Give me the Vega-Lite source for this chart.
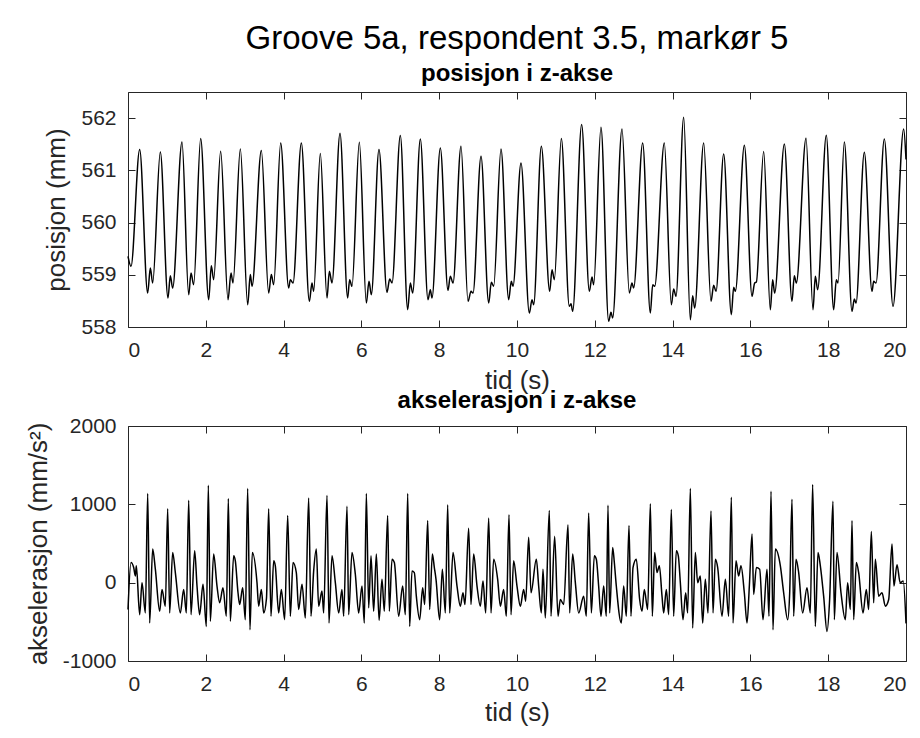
{
  "$schema": "https://vega.github.io/schema/vega-lite/v6.json",
  "autosize": {"type": "pad"},
  "padding": {"left": 24, "top": 22, "right": 5, "bottom": 5},
  "background": "white",
  "config": {
    "font": "Liberation Sans",
    "view": {"stroke": "#262626", "strokeWidth": 1},
    "axis": {"grid": false, "domain": false, "tickSize": -7, "tickColor": "#262626", "labelColor": "#262626", "labelFontSize": 21, "titleFontSize": 26, "titleFontWeight": "normal", "titleColor": "#262626", "labelPadding": 19, "labelFont": "Liberation Sans", "titleFont": "Liberation Sans"},
    "title": {"anchor": "middle", "color": "#000000", "font": "Liberation Sans", "subtitleFont": "Liberation Sans", "subtitleColor": "#000000"}
  },
  "bounds": "flush",
  "spacing": 99,
  "datasets": {
    "pos": [
      {"t":0.000,"z":559.354},{"t":0.077,"z":559.162},{"t":0.300,"z":561.397},{"t":0.506,"z":558.651},{"t":0.574,"z":559.130},{"t":0.634,"z":558.843},
      {"t":0.831,"z":561.352},{"t":1.028,"z":558.556},{"t":1.088,"z":558.983},{"t":1.148,"z":558.747},
      {"t":1.388,"z":561.544},{"t":1.560,"z":558.619},{"t":1.620,"z":559.034},{"t":1.688,"z":558.811},
      {"t":1.868,"z":561.608},{"t":2.074,"z":558.524},{"t":2.142,"z":559.175},{"t":2.202,"z":558.907},
      {"t":2.382,"z":561.365},{"t":2.571,"z":558.524},{"t":2.648,"z":559.034},{"t":2.699,"z":558.843},
      {"t":2.888,"z":561.410},{"t":3.076,"z":558.428},{"t":3.145,"z":559.003},{"t":3.188,"z":558.779},
      {"t":3.428,"z":561.378},{"t":3.616,"z":558.651},{"t":3.685,"z":559.003},{"t":3.745,"z":558.811},
      {"t":3.925,"z":561.525},{"t":4.130,"z":558.747},{"t":4.173,"z":558.907},{"t":4.242,"z":558.843},
      {"t":4.456,"z":561.525},{"t":4.662,"z":558.492},{"t":4.730,"z":558.843},{"t":4.773,"z":558.683},
      {"t":4.944,"z":561.321},{"t":5.116,"z":558.556},{"t":5.176,"z":559.066},{"t":5.244,"z":558.843},
      {"t":5.450,"z":561.710},{"t":5.647,"z":558.556},{"t":5.698,"z":558.907},{"t":5.758,"z":558.779},
      {"t":5.947,"z":561.538},{"t":6.127,"z":558.460},{"t":6.195,"z":558.875},{"t":6.255,"z":558.619},
      {"t":6.452,"z":561.397},{"t":6.658,"z":558.664},{"t":6.727,"z":558.920},{"t":6.787,"z":558.843},
      {"t":7.001,"z":561.665},{"t":7.190,"z":558.332},{"t":7.258,"z":558.843},{"t":7.318,"z":558.651},
      {"t":7.515,"z":561.602},{"t":7.712,"z":558.524},{"t":7.772,"z":558.715},{"t":7.815,"z":558.556},
      {"t":8.029,"z":561.429},{"t":8.226,"z":558.702},{"t":8.286,"z":558.971},{"t":8.355,"z":558.843},
      {"t":8.560,"z":561.461},{"t":8.741,"z":558.492},{"t":8.818,"z":558.683},{"t":8.869,"z":558.651},
      {"t":9.075,"z":561.269},{"t":9.272,"z":558.460},{"t":9.340,"z":558.856},{"t":9.400,"z":558.779},
      {"t":9.589,"z":561.410},{"t":9.786,"z":558.524},{"t":9.854,"z":558.875},{"t":9.897,"z":558.779},
      {"t":10.103,"z":561.142},{"t":10.317,"z":558.268},{"t":10.386,"z":558.524},{"t":10.428,"z":558.428},
      {"t":10.626,"z":561.461},{"t":10.840,"z":558.683},{"t":10.900,"z":559.098},{"t":10.960,"z":558.907},
      {"t":11.140,"z":561.608},{"t":11.345,"z":558.396},{"t":11.388,"z":558.447},{"t":11.431,"z":558.300},
      {"t":11.662,"z":561.876},{"t":11.859,"z":558.683},{"t":11.928,"z":558.958},{"t":11.971,"z":558.811},
      {"t":12.159,"z":561.825},{"t":12.356,"z":558.109},{"t":12.416,"z":558.281},{"t":12.459,"z":558.172},
      {"t":12.699,"z":561.793},{"t":12.888,"z":558.651},{"t":12.956,"z":558.843},{"t":12.999,"z":558.747},
      {"t":13.231,"z":561.525},{"t":13.428,"z":558.268},{"t":13.488,"z":558.811},{"t":13.539,"z":558.779},
      {"t":13.787,"z":561.525},{"t":13.967,"z":558.428},{"t":14.027,"z":558.728},{"t":14.087,"z":558.587},
      {"t":14.285,"z":562.017},{"t":14.456,"z":558.140},{"t":14.516,"z":558.600},{"t":14.568,"z":558.364},
      {"t":14.799,"z":561.525},{"t":14.987,"z":558.492},{"t":15.056,"z":558.798},{"t":15.116,"z":558.683},
      {"t":15.313,"z":561.314},{"t":15.510,"z":558.236},{"t":15.570,"z":558.760},{"t":15.613,"z":558.683},
      {"t":15.845,"z":561.480},{"t":16.042,"z":558.587},{"t":16.110,"z":558.843},{"t":16.153,"z":558.860},
      {"t":16.341,"z":561.359},{"t":16.512,"z":558.332},{"t":16.572,"z":558.907},{"t":16.624,"z":558.651},
      {"t":16.873,"z":561.506},{"t":17.069,"z":558.492},{"t":17.129,"z":558.983},{"t":17.181,"z":558.843},
      {"t":17.430,"z":561.614},{"t":17.609,"z":558.332},{"t":17.669,"z":558.971},{"t":17.729,"z":558.715},
      {"t":17.951,"z":561.672},{"t":18.140,"z":558.332},{"t":18.209,"z":558.907},{"t":18.252,"z":558.843},
      {"t":18.415,"z":561.544},{"t":18.612,"z":558.300},{"t":18.672,"z":558.536},{"t":18.715,"z":558.460},
      {"t":18.929,"z":561.346},{"t":19.126,"z":558.683},{"t":19.169,"z":558.875},{"t":19.229,"z":558.843},
      {"t":19.443,"z":561.602},{"t":19.666,"z":558.396},{"t":19.940,"z":561.793},{"t":20.000,"z":561.206}
    ],
    "acc": [
      {"t":0.000,"a":-343},{"t":0.077,"a":257},{"t":0.146,"a":193},{"t":0.189,"a":86},{"t":0.214,"a":215},{"t":0.300,"a":-408},{"t":0.360,"a":0},{"t":0.446,"a":-386},
      {"t":0.506,"a":1137},{"t":0.557,"a":-515},{"t":0.634,"a":429},{"t":0.703,"a":172},{"t":0.814,"a":-365},{"t":0.874,"a":-86},{"t":0.960,"a":-300},
      {"t":1.020,"a":944},{"t":1.071,"a":-386},{"t":1.148,"a":386},{"t":1.217,"a":129},{"t":1.345,"a":-386},{"t":1.431,"a":-86},{"t":1.500,"a":-386},
      {"t":1.560,"a":1051},{"t":1.620,"a":-408},{"t":1.714,"a":408},{"t":1.774,"a":-43},{"t":1.842,"a":-408},{"t":1.928,"a":-21},{"t":2.014,"a":-558},
      {"t":2.065,"a":1244},{"t":2.117,"a":-493},{"t":2.202,"a":365},{"t":2.288,"a":-43},{"t":2.356,"a":-257},{"t":2.442,"a":-64},{"t":2.528,"a":-429},
      {"t":2.579,"a":1073},{"t":2.631,"a":-493},{"t":2.716,"a":343},{"t":2.759,"a":279},{"t":2.828,"a":-129},{"t":2.871,"a":-279},{"t":2.948,"a":-64},{"t":3.016,"a":-472},
      {"t":3.076,"a":1201},{"t":3.136,"a":-601},{"t":3.196,"a":386},{"t":3.316,"a":0},{"t":3.359,"a":-300},{"t":3.428,"a":-86},{"t":3.488,"a":-386},{"t":3.560,"a":-200},
      {"t":3.616,"a":944},{"t":3.676,"a":-429},{"t":3.745,"a":279},{"t":3.787,"a":215},{"t":3.873,"a":-386},{"t":3.942,"a":-86},{"t":4.027,"a":-472},
      {"t":4.105,"a":858},{"t":4.173,"a":-429},{"t":4.242,"a":257},{"t":4.327,"a":129},{"t":4.387,"a":-343},{"t":4.473,"a":-21},{"t":4.559,"a":-450},
      {"t":4.644,"a":1081},{"t":4.704,"a":-429},{"t":4.773,"a":150},{"t":4.841,"a":429},{"t":4.901,"a":-300},{"t":4.987,"a":-107},{"t":5.030,"a":-386},
      {"t":5.116,"a":1115},{"t":5.167,"a":-515},{"t":5.244,"a":343},{"t":5.330,"a":0},{"t":5.416,"a":-386},{"t":5.501,"a":-86},{"t":5.544,"a":-429},
      {"t":5.630,"a":974},{"t":5.673,"a":-408},{"t":5.758,"a":386},{"t":5.844,"a":107},{"t":5.930,"a":-386},{"t":6.015,"a":-43},{"t":6.075,"a":-515},
      {"t":6.127,"a":1137},{"t":6.187,"a":-322},{"t":6.247,"a":343},{"t":6.315,"a":-365},{"t":6.384,"a":365},{"t":6.455,"a":-480},{"t":6.529,"a":43},{"t":6.589,"a":-365},
      {"t":6.675,"a":858},{"t":6.718,"a":-365},{"t":6.787,"a":300},{"t":6.847,"a":257},{"t":6.958,"a":-429},{"t":7.061,"a":-43},{"t":7.130,"a":-408},
      {"t":7.190,"a":1137},{"t":7.241,"a":-558},{"t":7.301,"a":150},{"t":7.361,"a":129},{"t":7.412,"a":-172},{"t":7.498,"a":-472},{"t":7.575,"a":-64},{"t":7.627,"a":-279},
      {"t":7.704,"a":794},{"t":7.755,"a":-343},{"t":7.824,"a":365},{"t":7.875,"a":193},{"t":7.918,"a":43},{"t":8.012,"a":-472},{"t":8.081,"a":172},{"t":8.158,"a":-386},
      {"t":8.218,"a":995},{"t":8.269,"a":-386},{"t":8.355,"a":386},{"t":8.458,"a":-43},{"t":8.543,"a":-300},{"t":8.612,"a":-129},{"t":8.663,"a":-279},
      {"t":8.757,"a":695},{"t":8.817,"a":-279},{"t":8.886,"a":365},{"t":8.972,"a":-43},{"t":9.057,"a":-300},{"t":9.126,"a":21},{"t":9.195,"a":-386},
      {"t":9.272,"a":824},{"t":9.332,"a":-386},{"t":9.400,"a":300},{"t":9.503,"a":43},{"t":9.572,"a":-300},{"t":9.657,"a":-86},{"t":9.726,"a":-429},
      {"t":9.794,"a":867},{"t":9.846,"a":-408},{"t":9.914,"a":279},{"t":10.000,"a":-43},{"t":10.086,"a":-300},{"t":10.171,"a":-86},{"t":10.223,"a":-236},
      {"t":10.300,"a":579},{"t":10.360,"a":-129},{"t":10.497,"a":300},{"t":10.557,"a":-43},{"t":10.626,"a":-386},{"t":10.668,"a":172},{"t":10.728,"a":-450},
      {"t":10.831,"a":922},{"t":10.874,"a":-429},{"t":10.968,"a":592},{"t":11.054,"a":-429},{"t":11.114,"a":-215},{"t":11.200,"a":-279},
      {"t":11.311,"a":738},{"t":11.354,"a":-386},{"t":11.431,"a":365},{"t":11.500,"a":0},{"t":11.585,"a":-386},{"t":11.714,"a":-172},{"t":11.782,"a":-429},
      {"t":11.842,"a":888},{"t":11.911,"a":-386},{"t":11.988,"a":343},{"t":12.039,"a":300},{"t":12.099,"a":-43},{"t":12.159,"a":-429},{"t":12.228,"a":-43},{"t":12.296,"a":-429},
      {"t":12.339,"a":987},{"t":12.382,"a":-386},{"t":12.459,"a":450},{"t":12.502,"a":257},{"t":12.553,"a":-43},{"t":12.682,"a":-515},{"t":12.742,"a":-43},{"t":12.810,"a":-429},
      {"t":12.879,"a":729},{"t":12.930,"a":-429},{"t":12.982,"a":193},{"t":13.067,"a":300},{"t":13.153,"a":-215},{"t":13.213,"a":-365},{"t":13.273,"a":-86},{"t":13.359,"a":-343},
      {"t":13.428,"a":1008},{"t":13.479,"a":-429},{"t":13.539,"a":386},{"t":13.599,"a":129},{"t":13.659,"a":215},{"t":13.728,"a":-172},{"t":13.770,"a":-386},{"t":13.839,"a":-86},{"t":13.899,"a":-408},
      {"t":13.967,"a":935},{"t":14.027,"a":-429},{"t":14.096,"a":408},{"t":14.147,"a":343},{"t":14.199,"a":0},{"t":14.267,"a":-472},{"t":14.336,"a":-129},{"t":14.387,"a":-386},
      {"t":14.456,"a":1201},{"t":14.516,"a":-579},{"t":14.584,"a":386},{"t":14.644,"a":0},{"t":14.713,"a":86},{"t":14.773,"a":-515},{"t":14.841,"a":43},{"t":14.910,"a":-386},
      {"t":14.987,"a":914},{"t":15.039,"a":-386},{"t":15.099,"a":300},{"t":15.159,"a":193},{"t":15.270,"a":-429},{"t":15.356,"a":43},{"t":15.441,"a":-429},
      {"t":15.510,"a":1090},{"t":15.553,"a":-515},{"t":15.630,"a":279},{"t":15.698,"a":86},{"t":15.758,"a":215},{"t":15.844,"a":-129},{"t":15.913,"a":-515},{"t":15.973,"a":-43},
      {"t":16.042,"a":622},{"t":16.084,"a":-150},{"t":16.153,"a":193},{"t":16.238,"a":172},{"t":16.324,"a":-472},{"t":16.427,"a":172},{"t":16.478,"a":-429},
      {"t":16.530,"a":1167},{"t":16.581,"a":-601},{"t":16.641,"a":429},{"t":16.770,"a":215},{"t":16.855,"a":-129},{"t":16.958,"a":-472},{"t":17.010,"a":-129},
      {"t":17.069,"a":1064},{"t":17.112,"a":-429},{"t":17.172,"a":300},{"t":17.241,"a":129},{"t":17.343,"a":-386},{"t":17.455,"a":-64},{"t":17.540,"a":-386},
      {"t":17.600,"a":1253},{"t":17.669,"a":-558},{"t":17.738,"a":386},{"t":17.798,"a":215},{"t":17.883,"a":-172},{"t":17.969,"a":-622},{"t":18.037,"a":-215},
      {"t":18.123,"a":1038},{"t":18.158,"a":-472},{"t":18.226,"a":386},{"t":18.329,"a":-129},{"t":18.440,"a":-472},{"t":18.500,"a":0},{"t":18.569,"a":-343},
      {"t":18.612,"a":794},{"t":18.655,"a":-472},{"t":18.723,"a":257},{"t":18.783,"a":129},{"t":18.895,"a":-386},{"t":18.980,"a":-86},{"t":19.040,"a":-343},
      {"t":19.109,"a":652},{"t":19.169,"a":-257},{"t":19.212,"a":300},{"t":19.298,"a":-172},{"t":19.383,"a":-129},{"t":19.469,"a":-300},{"t":19.555,"a":-215},
      {"t":19.640,"a":493},{"t":19.690,"a":-43},{"t":19.769,"a":230},{"t":19.850,"a":0},{"t":19.930,"a":20},{"t":20.000,"a":-520}
    ]
  },
  "vconcat": [
    {
      "width": 778,
      "height": 235,
      "title": {"text": "Groove 5a, respondent 3.5, markør 5", "subtitle": "posisjon i z-akse", "fontSize": 33, "fontWeight": "normal", "subtitleFontSize": 24, "subtitleFontWeight": "bold", "subtitlePadding": 6, "offset": 6},
      "data": {"name": "pos"},
      "layer": [
        {
          "mark": {"type": "line", "color": "#000000", "strokeWidth": 1.5, "interpolate": "monotone"},
          "encoding": {
            "x": {"field": "t", "type": "quantitative", "scale": {"domain": [0, 20], "nice": false, "zero": false},
                  "axis": {"values": [0, 2, 4, 6, 8, 10, 12, 14, 16, 18, 20], "title": "tid (s)", "titlePadding": 7}},
            "y": {"field": "z", "type": "quantitative", "scale": {"domain": [558, 562.5], "nice": false, "zero": false},
                  "axis": {"values": [558, 559, 560, 561, 562], "title": "posisjon (mm)", "titlePadding": 11, "labelExpr": "'' + datum.value"}}
          }
        },
        {
          "mark": {"type": "line", "opacity": 0},
          "encoding": {
            "x": {"field": "t", "type": "quantitative", "axis": {"orient": "top", "values": [0, 2, 4, 6, 8, 10, 12, 14, 16, 18, 20], "labels": false, "title": null}},
            "y": {"field": "z", "type": "quantitative", "axis": {"orient": "right", "values": [558, 559, 560, 561, 562], "labels": false, "title": null}}
          }
        }
      ],
      "resolve": {"axis": {"x": "independent", "y": "independent"}}
    },
    {
      "width": 778,
      "height": 235,
      "title": {"text": "akselerasjon i z-akse", "fontSize": 24, "fontWeight": "bold", "offset": 2},
      "data": {"name": "acc"},
      "layer": [
        {
          "mark": {"type": "line", "color": "#000000", "strokeWidth": 1.5, "interpolate": "monotone"},
          "encoding": {
            "x": {"field": "t", "type": "quantitative", "scale": {"domain": [0, 20], "nice": false, "zero": false},
                  "axis": {"values": [0, 2, 4, 6, 8, 10, 12, 14, 16, 18, 20], "title": "tid (s)", "titlePadding": 5}},
            "y": {"field": "a", "type": "quantitative", "scale": {"domain": [-1000, 2000], "nice": false, "zero": false},
                  "axis": {"values": [-1000, 0, 1000, 2000], "title": "akselerasjon (mm/s²)", "titlePadding": 11, "labelExpr": "'' + datum.value"}}
          }
        },
        {
          "mark": {"type": "line", "opacity": 0},
          "encoding": {
            "x": {"field": "t", "type": "quantitative", "axis": {"orient": "top", "values": [0, 2, 4, 6, 8, 10, 12, 14, 16, 18, 20], "labels": false, "title": null}},
            "y": {"field": "a", "type": "quantitative", "axis": {"orient": "right", "values": [-1000, 0, 1000, 2000], "labels": false, "title": null}}
          }
        }
      ],
      "resolve": {"axis": {"x": "independent", "y": "independent"}}
    }
  ]
}
